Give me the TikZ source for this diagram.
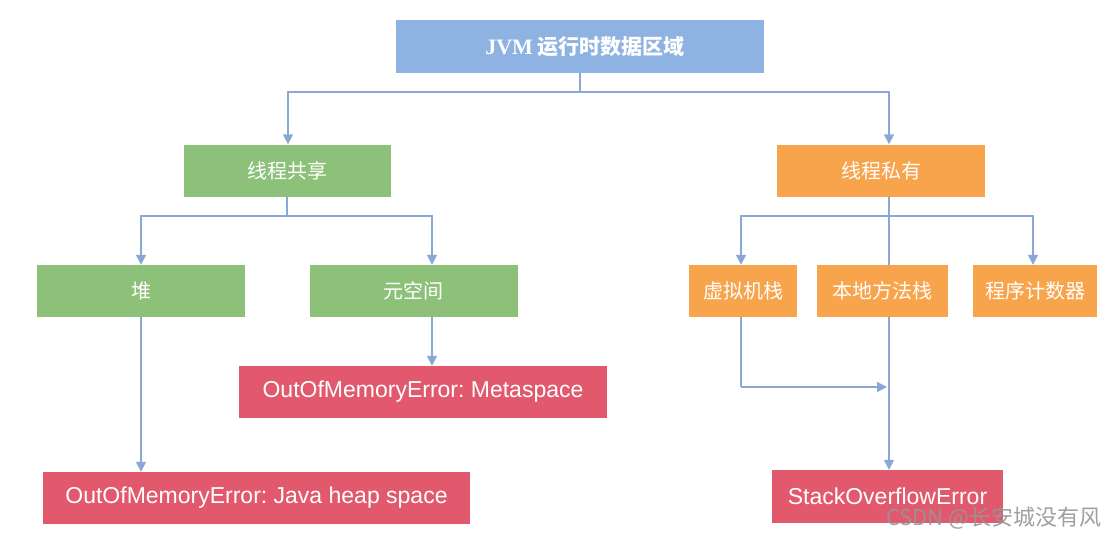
\documentclass[tikz,border=0pt]{standalone}
\usepackage{fontspec}
\setmainfont{Liberation Sans}
\newfontfamily\cjk{Noto Sans CJK SC}
\newfontfamily\serifjvm{Liberation Serif}
\usetikzlibrary{arrows.meta,calc}
\definecolor{cblue}{RGB}{142,178,226}
\definecolor{cgreen}{RGB}{141,193,122}
\definecolor{corange}{RGB}{248,164,76}
\definecolor{cred}{RGB}{226,88,108}
\definecolor{cline}{RGB}{138,168,214}
\definecolor{cmark}{RGB}{150,150,150}
\frenchspacing
\begin{document}
\begin{tikzpicture}[x=1pt,y=-1pt,
  box/.style={minimum width=#1, minimum height=52pt, inner sep=0pt, text=white, anchor=center},
  bluebox/.style={box=#1, fill=cblue, font=\cjk\bfseries\fontsize{21}{25}\selectfont},
  greenbox/.style={box=#1, fill=cgreen, font=\cjk\fontsize{20}{24}\selectfont},
  orangebox/.style={box=#1, fill=corange, font=\cjk\fontsize{20}{24}\selectfont},
  redbox/.style={box=#1, fill=cred, font=\fontsize{23}{27}\selectfont},
  link/.style={draw=cline, line width=1.5pt},
  arr/.style={link, -{Triangle[length=10pt,width=10pt]}}]
\useasboundingbox (0,0) rectangle (1105,539);
\fill[white] (0,0) rectangle (1105,539);

% nodes
\node[bluebox=368pt, minimum height=53pt] (top) at (580,46.5) {\hspace*{10pt}{\serifjvm\bfseries\fontsize{22}{25}\selectfont JVM}\ 运行时数据区域};
\node[greenbox=207pt] (share) at (287,170.5) {线程共享};
\node[orangebox=208pt] (priv) at (881,170.5) {线程私有};
\node[greenbox=208pt] (heap) at (141,291) {堆};
\node[greenbox=208pt] (meta) at (413.5,291) {元空间};
\node[orangebox=108pt] (vm) at (743,291) {虚拟机栈};
\node[orangebox=131pt] (native) at (882.5,291) {本地方法栈};
\node[orangebox=124pt] (pc) at (1035,291) {程序计数器};
\node[redbox=368pt] (oommeta) at (423,392) {OutOfMemoryError: Metaspace};
\node[redbox=427pt] (oomheap) at (256.5,498) {OutOfMemoryError: Java heap space};
\node[redbox=231pt, minimum height=53pt] (soe) at (887.5,496.5) {StackOverflowError};

% junctions
\coordinate (j1) at (580,92);
\coordinate (j2) at (287,216);
\coordinate (j3) at (889,216);
\coordinate (j4) at (741,387);

% connectors
\draw[link] (top.south) -- (j1);
\draw[arr] (j1) -| ($(share.north)+(1,0)$);
\draw[arr] (j1) -| ($(priv.north)+(8,0)$);
\draw[link] (share.south) -- (j2);
\draw[arr] (j2) -| (heap.north);
\draw[arr] (j2) -| ($(meta.north)+(18.5,0)$);
\draw[arr] ($(meta.south)+(18.5,0)$) -- ($(oommeta.north)+(9,0)$);
\draw[arr] (heap.south) -- (heap.south |- oomheap.north);
\draw[link] ($(priv.south)+(8,0)$) -- (j3);
\draw[link] (j3) -- ($(native.north)+(6.5,0)$);
\draw[arr] (j3) -| ($(vm.north)+(-2,0)$);
\draw[arr] (j3) -| ($(pc.north)+(-2,0)$);
\draw[link] ($(vm.south)+(-2,0)$) -- (j4);
\draw[arr] (j4) -- ($(j4)+(146,0)$);
\draw[arr] ($(native.south)+(6.5,0)$) -- ($(soe.north)+(1.5,0)$);

% watermark
\node[anchor=west, text=cmark, opacity=0.9, font=\cjk\fontsize{22}{26}\selectfont, inner sep=0pt] (mark) at (886,518) {CSDN @长安城没有风};
\end{tikzpicture}
\end{document}
